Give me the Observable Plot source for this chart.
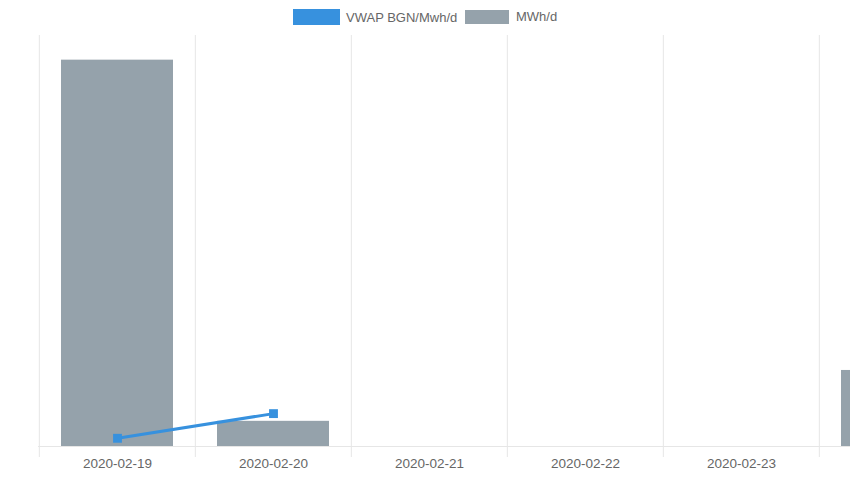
<!DOCTYPE html>
<html>
<head>
<meta charset="utf-8">
<script src="https://cdn.jsdelivr.net/npm/d3@7"></script>
<script src="https://cdn.jsdelivr.net/npm/@observablehq/plot@0.6"></script>
<style>
  html, body { margin: 0; padding: 0; background: #fff; overflow: hidden; width: 850px; height: 480px; }
  #legend { position: absolute; left: 0; top: 0; width: 850px; height: 35px; font: 13px "Liberation Sans", Arial, Helvetica, sans-serif; color: #666; }
  .item { position: absolute; top: 9px; display: flex; align-items: center; }
  .swatch { display: inline-block; margin-right: 6px; }
  #chart { position: absolute; left: 0; top: 35px; width: 850px; height: 445px; overflow: hidden; }
  #chart svg { position: absolute; left: 0; top: 0; max-width: none !important; width: 976px; height: 445px; }
</style>
</head>
<body>
<div id="legend">
  <div class="item" style="left:293px;"><span class="swatch" style="width:47px;height:16px;background:#3791de;"></span><span>VWAP BGN/Mwh/d</span></div>
  <div class="item" style="left:465px;"><span class="swatch" style="width:44px;height:14px;background:#95a2ab;margin-right:7px;"></span><span>MWh/d</span></div>
</div>
<div id="chart"></div>
<script>
// Trading days on the category axis
const days = ["2020-02-19", "2020-02-20", "2020-02-21", "2020-02-22", "2020-02-23", "2020-02-24"];
// Days whose labels fit in the visible part of the chart
const labelledDays = days.slice(0, 5);
// Traded volume per day (MWh/d)
const volume = [3760, 245, 0, 0, 0, 740];
// Volume-weighted average price (BGN/MWh), only for days with a quote
const vwapDays = ["2020-02-19", "2020-02-20"];
const vwap = [37.2, 37.8];

const W = 976, H = 445, ML = 38, MB = 34;
const bandW = (W - ML) / days.length;

const bars = days.map((d, i) => ({day: d, value: volume[i]}));
const prices = vwapDays.map((d, i) => ({day: d, value: vwap[i]}));

const xScale = {type: "band", domain: days, padding: 0, align: 0.5};

const base = Plot.plot({
  width: W, height: H,
  marginLeft: ML, marginRight: 0, marginTop: 0, marginBottom: MB,
  style: {background: "transparent", fontFamily: "'Liberation Sans', Arial, Helvetica, sans-serif", fontSize: "13.5px", color: "#666", overflow: "visible", maxWidth: "none"},
  x: {...xScale, label: null},
  y: {domain: [0, 4000], axis: null},
  marks: [
    // category separators, running from the top down past the baseline as ticks
    Plot.ruleX(days, {x: d => d, y1: 4000, y2: 0, dx: -bandW / 2, insetTop: -20, insetBottom: -11, stroke: "#e6e6e6", strokeWidth: 1}),
    Plot.ruleY([0], {stroke: "#e6e6e6"}),
    Plot.barY(bars, {x: "day", y: "value", fill: "#95a2ab", insetLeft: 22, insetRight: 22}),
    Plot.axisX({ticks: labelledDays, tickSize: 0, tickPadding: 12, fill: "#666", fontSize: 13.5, label: null})
  ]
});

const overlay = Plot.plot({
  width: W, height: H,
  marginLeft: ML, marginRight: 0, marginTop: 0, marginBottom: MB,
  style: {background: "transparent", overflow: "visible", maxWidth: "none"},
  x: {...xScale, axis: null},
  y: {domain: [37, 47], axis: null},
  marks: [
    Plot.line(prices, {x: "day", y: "value", stroke: "#3791de", strokeWidth: 3}),
    Plot.dot(prices, {x: "day", y: "value", symbol: "square", r: 5, fill: "#3791de", stroke: "none"})
  ]
});

const chart = document.getElementById("chart");
chart.appendChild(base);
chart.appendChild(overlay);
</script>
</body>
</html>
